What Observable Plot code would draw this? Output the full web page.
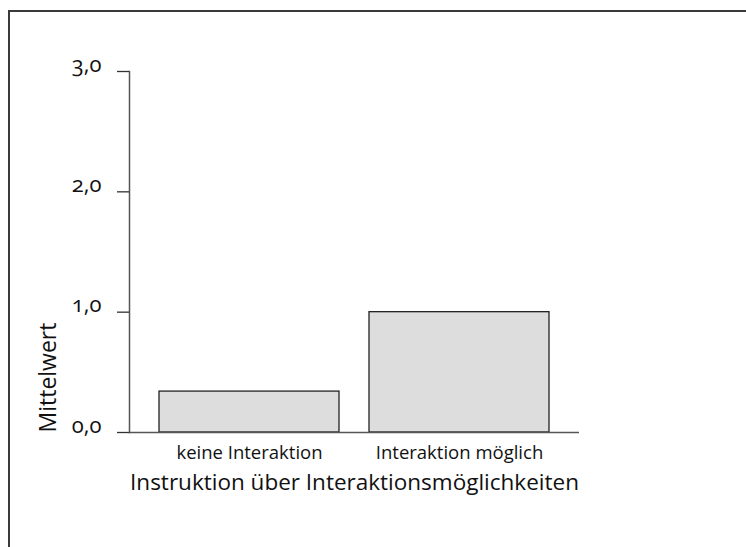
<!DOCTYPE html>
<html>
<head>
<meta charset="utf-8">
<script src="https://cdn.jsdelivr.net/npm/d3@7"></script>
<script src="https://cdn.jsdelivr.net/npm/@observablehq/plot@0.6"></script>
<style>
  html, body { margin: 0; padding: 0; background: #fff; }
  #wrap { position: relative; width: 746px; height: 547px; overflow: hidden; }
  #border { position: absolute; left: 8px; top: 10px; right: -10px; bottom: -10px;
            border-top: 2px solid #3a3a3a; border-left: 2px solid #3a3a3a; }
  #chart { position: absolute; left: 0; top: 0; }
  #chart svg { font-family: "Open Sans", "Noto Sans", sans-serif; }
  .onum text { font-feature-settings: "onum" 1; font-variant-numeric: oldstyle-nums; }
</style>
</head>
<body>
<div id="wrap"><div id="border"></div><div id="chart"></div></div>
<script>
const categories = ["keine Interaktion", "Interaktion möglich"];
const values = [0.34, 1.0];
const yTicks = [0, 1, 2, 3];
const xTitle = "Instruktion über Interaktionsmöglichkeiten";
const yTitle = "Mittelwert";

const data = categories.map((c, i) => ({category: c, value: values[i]}));

const fmt = d => d.toFixed(1).replace(".", ",");

const chart = Plot.plot({
  width: 746,
  height: 547,
  marginLeft: 129,
  marginRight: 167,
  marginTop: 71,
  marginBottom: 115,
  style: {background: "transparent", color: "#222", overflow: "visible"},
  x: {domain: categories, paddingInner: 1/7, paddingOuter: 1/7, axis: null},
  y: {domain: [0, 3], axis: null},
  marks: [
    Plot.barY(data, {x: "category", y: "value", fill: "#dddddd", stroke: "#222", strokeWidth: 1.3}),
    Plot.ruleY([0], {stroke: "#555", strokeWidth: 1.5}),
    Plot.frame({anchor: "left", stroke: "#555", strokeWidth: 1.5}),
    Plot.axisY({ticks: yTicks, tickFormat: () => "", tickSize: 12, stroke: "#333", strokeWidth: 1.3, label: null}),
    Plot.axisY({ticks: yTicks, tickFormat: fmt, tickSize: 0, tickPadding: 28, fontSize: 22, dy: -7,
                className: "onum", label: null, fill: "#111"}),
    Plot.axisX({tickSize: 0, tickPadding: 13, fontSize: 18.5, label: null, fill: "#111"}),
    Plot.text([xTitle], {frameAnchor: "bottom", dy: 57, fontSize: 22.5, fill: "#111"}),
    Plot.text([yTitle], {frameAnchor: "bottom-left", dx: -74, rotate: -90, textAnchor: "start", fontSize: 23, fill: "#111"})
  ]
});
document.getElementById("chart").appendChild(chart);
</script>
</body>
</html>
